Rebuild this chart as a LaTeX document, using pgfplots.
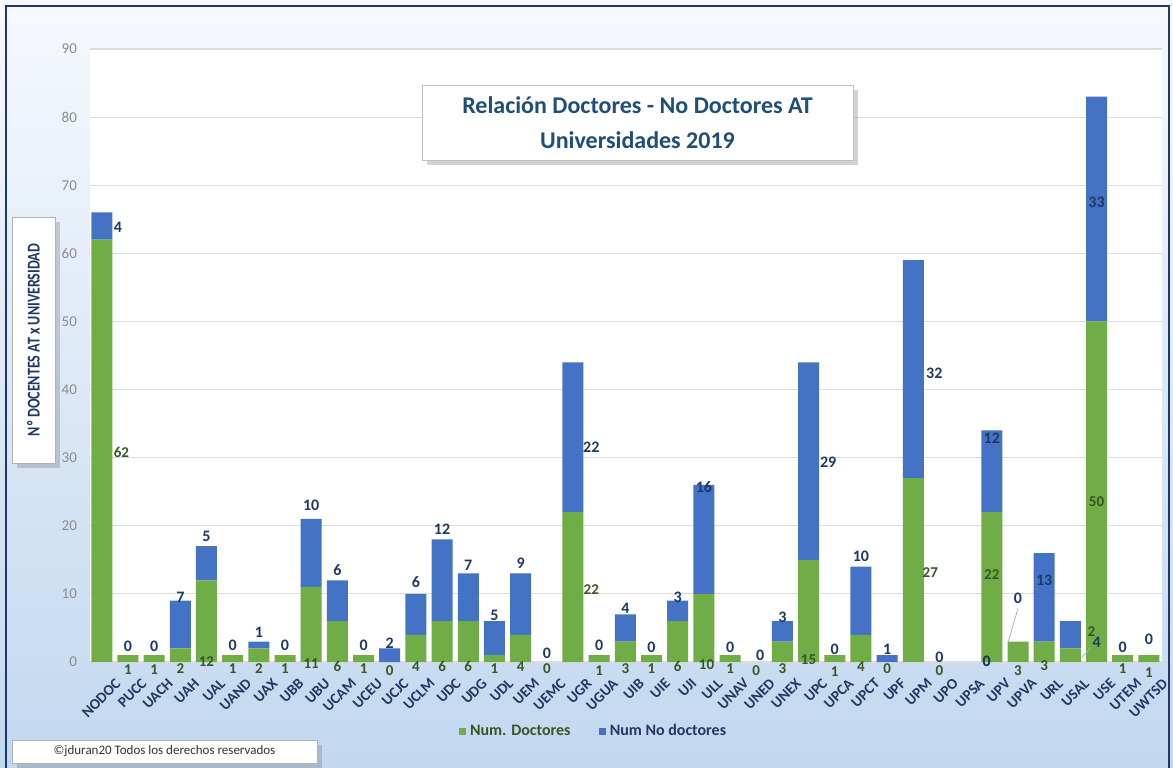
\documentclass[border=0pt]{standalone}
\usepackage{fontspec}
\setmainfont{Carlito}
\usepackage{pgfplots}
\pgfplotsset{compat=1.18}
\usetikzlibrary{shadows}

\definecolor{cgreen}{HTML}{70AD47}
\definecolor{cblue}{HTML}{4472C4}
\definecolor{navy}{HTML}{1F3864}
\definecolor{dgreen}{HTML}{375623}
\definecolor{ttl}{HTML}{1F4E79}
\definecolor{bgtop}{HTML}{F6F9FD}
\definecolor{bgbot}{HTML}{C2D8EF}
\definecolor{tickgray}{HTML}{8C8C8C}
\definecolor{gridgray}{HTML}{DCDCDC}

% doctores / no doctores por universidad (x = 0..40)
\pgfplotstableread{
x doc nodoc
0 62 4
1 1 0
2 1 0
3 2 7
4 12 5
5 1 0
6 2 1
7 1 0
8 11 10
9 6 6
10 1 0
11 0 2
12 4 6
13 6 12
14 6 7
15 1 5
16 4 9
17 0 0
18 22 22
19 1 0
20 3 4
21 1 0
22 6 3
23 10 16
24 1 0
25 0 0
26 3 3
27 15 29
28 1 0
29 4 10
30 0 1
31 27 32
32 0 0
33 0 0
34 22 12
35 3 0
36 3 13
37 2 4
38 50 33
39 1 0
40 1 0
}\datos

\pgfplotsset{
  common/.style={
    scale only axis, width=536pt, height=306.5pt,
    xmin=-0.45, xmax=40.5, ymin=0, ymax=90,
  },
}

\begin{document}
\begin{tikzpicture}
% fondo
\shade[top color=bgtop, bottom color=bgbot] (-45pt,-52.5pt) rectangle (541.5pt,331pt);
\draw[navy, line width=1.2pt] (-42pt,-56pt) -- (-42pt,328pt) -- (539.5pt,328pt) -- (539.5pt,-56pt);

\begin{axis}[common,
  ybar stacked, bar width=10.5pt,
  axis background/.style={fill=white},
  axis line style={draw=none},
  major tick length=0pt,
  ymajorgrids, grid style={gridgray, line width=0.6pt},
  ytick={0,10,...,90},
  xtick=data,
  xticklabels={NODOC,PUCC,UACH,UAH,UAL,UAND,UAX,UBB,UBU,UCAM,UCEU,UCJC,UCLM,UDC,UDG,UDL,UEM,UEMC,UGR,UGUA,UIB,UIE,UJI,ULL,UNAV,UNED,UNEX,UPC,UPCA,UPCT,UPF,UPM,UPO,UPSA,UPV,UPVA,URL,USAL,USE,UTEM,UWTSD},
  xticklabel style={rotate=45, anchor=east, font=\bfseries\fontsize{7.5}{8}\selectfont, text=navy, yshift=-12.5pt, xshift=2.5pt},
  yticklabel style={font=\fontsize{7.5}{8}\selectfont, text=tickgray, xshift=-3pt},
  /pgf/number format/assume math mode=true,
  legend style={at={(0.4706,-0.114)}, anchor=center, draw=none, fill=none,
    legend columns=2, font=\bfseries\fontsize{8}{9}\selectfont,
    /tikz/every even column/.append style={column sep=12pt}},
  legend cell align=left,
]
\addplot[fill=cgreen, draw=none,
  legend image code/.code={\fill[cgreen] (0pt,-1.6pt) rectangle (3.6pt,2pt);}]
  table[x=x, y=doc] {\datos};
\addlegendentry{\textcolor{dgreen}{Num. Doctores}}
\addplot[fill=cblue, draw=none,
  legend image code/.code={\fill[cblue] (0pt,-1.6pt) rectangle (3.6pt,2pt);}]
  table[x=x, y=nodoc] {\datos};
\addlegendentry{\textcolor{navy}{Num No doctores}}
\end{axis}

% etiquetas de datos
\begin{axis}[common, hide axis, clip=false]
\addplot[draw=none, mark=none, nodes near coords, point meta=explicit symbolic,
  nodes near coords style={anchor=center, inner sep=0pt, text=dgreen,
    font=\bfseries\fontsize{7.5}{8}\selectfont}]
  coordinates {
  (0.75,30.8)[62] (1,-1.1)[1] (2,-1.1)[1] (3,-0.9)[2] (4,0)[12]
  (5,-1.0)[1] (6,-1.0)[2] (7,-1.0)[1] (8,-0.2)[11] (9,-0.6)[6]
  (10,-1.0)[1] (11,-1.2)[0] (12,-0.7)[4] (13,-0.7)[6] (14,-0.7)[6]
  (15,-0.9)[1] (16,-0.7)[4] (17,-1.0)[0] (18.7,10.6)[22] (19,-1.3)[1]
  (20,-1.0)[3] (21,-1.0)[1] (22,-0.7)[6] (23.1,-0.4)[10] (24,-1.0)[1]
  (25,-1.2)[0] (26,-0.9)[3] (27,0.3)[15] (28,-1.4)[1] (29,-0.7)[4]
  (30,-1.0)[0] (31.65,13.2)[27] (32,-1.2)[0] (33.8,0)[0] (34,12.8)[22]
  (35,-1.2)[3] (36,-0.6)[3] (37.8,4.4)[2] (38,23.5)[50] (39,-1.0)[1]
  (40,-1.6)[1]
  };
\addplot[draw=none, mark=none, nodes near coords, point meta=explicit symbolic,
  nodes near coords style={anchor=center, inner sep=0pt, text=navy,
    font=\bfseries\fontsize{8}{9}\selectfont}]
  coordinates {
  (0.62,63.8)[4] (1,2.3)[0] (2,2.3)[0] (3,9.5)[7] (4,18.5)[5]
  (5,2.5)[0] (6,4.3)[1] (7,2.5)[0] (8,23.0)[10] (9,13.5)[6]
  (10,2.5)[0] (11,2.8)[2] (12,11.7)[6] (13,19.5)[12] (14,14.2)[7]
  (15,6.9)[5] (16,14.5)[9] (17,1.3)[0] (18.7,31.6)[22] (19,2.5)[0]
  (20,7.9)[4] (21,2.2)[0] (22,9.5)[3] (23,25.7)[16] (24,2.1)[0]
  (25.15,1.0)[0] (26,6.6)[3] (27.75,29.4)[29] (28,1.8)[0] (29,15.5)[10]
  (30,1.8)[1] (31.8,42.4)[32] (32,0.7)[0] (33.8,0.1)[0] (34,32.9)[12]
  (35,9.4)[0] (36,12)[13] (38.0,2.9)[4] (38,67.5)[33] (39,2.1)[0]
  (40,3.4)[0]
  };
\draw[gray!60] (axis cs:34.62,2.9) -- (axis cs:35.0,7.9);
\draw[gray!60] (axis cs:37.45,0.7) -- (axis cs:37.75,2.0);
\end{axis}

% titulo
\node[draw=gray!50, fill=white, drop shadow={opacity=0.35}, minimum width=215.5pt, minimum height=37.5pt,
  align=center, text=ttl, font=\bfseries\fontsize{12}{17.5}\selectfont]
  at (273.75pt,269.75pt) {Relación Doctores - No Doctores AT\\Universidades 2019};
% titulo eje y
\node[draw=gray!60, fill=white, drop shadow={opacity=0.35}, minimum width=21.5pt, minimum height=123pt] at (-28.25pt,161pt) {};
\node[rotate=90, text=navy, font=\bfseries\fontsize{9}{10}\selectfont, xscale=0.78] at (-28.25pt,161pt) {Nº DOCENTES AT x UNIVERSIDAD};
% copyright
\node[draw=gray!60, fill=white, drop shadow={opacity=0.35}, minimum width=152.5pt, minimum height=11.5pt, inner sep=0pt,
  font=\fontsize{6.5}{7}\selectfont, text=black!80] at (37.25pt,-44.75pt) {©jduran20 Todos los derechos reservados};

\pgfresetboundingbox
\path[use as bounding box] (-45pt,-52.5pt) rectangle (541.5pt,331pt);
\end{tikzpicture}
\end{document}
